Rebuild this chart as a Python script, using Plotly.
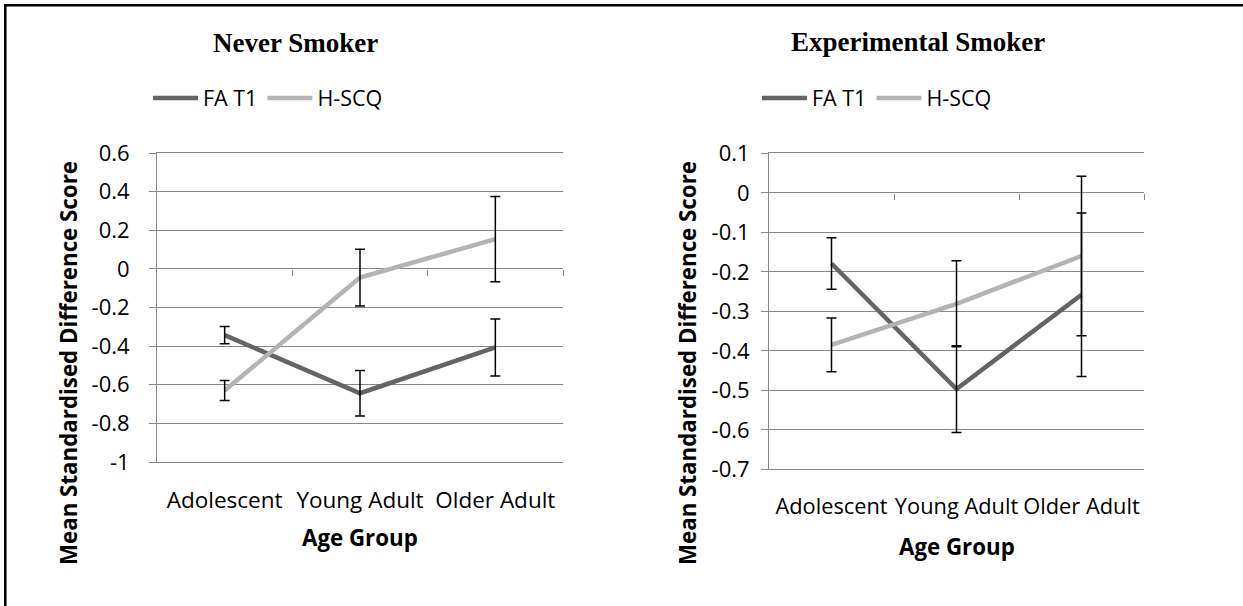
import plotly.graph_objects as go

# Age groups on the category axis
age_groups = ["Adolescent", "Young Adult", "Older Adult"]

# Never Smoker panel: means and error half-widths
never_fa = [-0.343, -0.644, -0.407]
never_fa_err = [0.045, 0.118, 0.148]
never_hscq = [-0.630, -0.045, 0.154]
never_hscq_err = [0.052, 0.147, 0.221]

# Experimental Smoker panel: means and error half-widths
exp_fa = [-0.179, -0.497, -0.258]
exp_fa_err = [0.065, 0.110, 0.207]
exp_hscq = [-0.385, -0.281, -0.160]
exp_hscq_err = [0.068, 0.109, 0.202]

# Value-axis ticks and their labels
never_ticks = [-1, -0.8, -0.6, -0.4, -0.2, 0, 0.2, 0.4, 0.6]
never_tick_text = ["-1", "-0.8", "-0.6", "-0.4", "-0.2", "0", "0.2", "0.4", "0.6"]
exp_ticks = [-0.7, -0.6, -0.5, -0.4, -0.3, -0.2, -0.1, 0, 0.1]
exp_tick_text = ["-0.7", "-0.6", "-0.5", "-0.4", "-0.3", "-0.2", "-0.1", "0", "0.1"]

W, H = 1243, 606
FONT = "Open Sans"
DARK = "#646464"
LIGHT = "#b3b3b3"
GRID = "#888888"


def px_x(p):
    return p / W


def px_y(p):
    return 1 - p / H


fig = go.Figure()


def add_panel(xa, ya, fa, fa_err, hscq, hscq_err, legend):
    fig.add_trace(go.Scatter(x=age_groups, y=fa, mode="lines", name="FA T1",
                             line=dict(color=DARK, width=4.5), xaxis=xa, yaxis=ya,
                             legend=legend))
    fig.add_trace(go.Scatter(x=age_groups, y=hscq, mode="lines", name="H-SCQ",
                             line=dict(color=LIGHT, width=4.5), xaxis=xa, yaxis=ya,
                             legend=legend))
    # error bars drawn above both lines
    for vals, errs in ((fa, fa_err), (hscq, hscq_err)):
        fig.add_trace(go.Scatter(x=age_groups, y=vals, mode="markers",
                                 marker=dict(size=1, color="rgba(0,0,0,0)"),
                                 error_y=dict(type="data", array=errs, visible=True,
                                              color="black", thickness=1.5, width=5),
                                 showlegend=False, hoverinfo="skip",
                                 xaxis=xa, yaxis=ya))


add_panel("x", "y", never_fa, never_fa_err, never_hscq, never_hscq_err, "legend")
add_panel("x2", "y2", exp_fa, exp_fa_err, exp_hscq, exp_hscq_err, "legend2")

left_x = [px_x(157), px_x(563)]
left_y = [px_y(462), px_y(153)]
right_x = [px_x(769), px_x(1144)]
right_y = [px_y(469.3), px_y(153.3)]
left_range = [-1, 0.6]
right_range = [-0.7, 0.1]


def zero_pos(dom, rng):
    return dom[0] + (0 - rng[0]) / (rng[1] - rng[0]) * (dom[1] - dom[0])


tick_font = dict(family=FONT, size=22, color="black")

cat_axis = dict(type="category", range=[-0.5, 2.5], showgrid=False, showline=True,
                mirror=True, linecolor=GRID, linewidth=1, ticks="", tickangle=0,
                ticklabelstandoff=18, zeroline=False, automargin=False)

val_axis = dict(showgrid=True, gridcolor=GRID, gridwidth=1, zeroline=False,
                showline=True, linecolor=GRID, linewidth=1, ticks="outside",
                ticklen=7, tickcolor=GRID, tickfont=tick_font, automargin=False,
                tickmode="array")

# overlay axes that put the category boundary ticks on the zero line
boundary_axis = dict(type="linear", range=[-0.5, 2.5], tickvals=[0.5, 1.5, 2.5],
                     ticks="outside", ticklen=6, tickcolor=GRID, showline=False,
                     showticklabels=False, showgrid=False, zeroline=False,
                     anchor="free", automargin=False)

legend_common = dict(orientation="h", xanchor="center", yanchor="middle",
                     font=dict(family=FONT, size=21.5, color="black"),
                     bgcolor="rgba(0,0,0,0)", itemwidth=45)

fig.update_layout(
    width=W, height=H,
    margin=dict(l=0, r=0, t=0, b=0, autoexpand=False),
    paper_bgcolor="white", plot_bgcolor="white",
    font=dict(family=FONT, color="black"),
    xaxis=dict(cat_axis, domain=left_x, anchor="y",
               tickfont=dict(family=FONT, size=22.5, color="black")),
    yaxis=dict(val_axis, domain=left_y, anchor="x", range=left_range,
               tickvals=never_ticks, ticktext=never_tick_text, ticklabelstandoff=15),
    xaxis2=dict(cat_axis, domain=right_x, anchor="y2",
                tickfont=dict(family=FONT, size=21.8, color="black")),
    yaxis2=dict(val_axis, domain=right_y, anchor="x2", range=right_range,
                tickvals=exp_ticks, ticktext=exp_tick_text, ticklabelstandoff=7),
    xaxis3=dict(boundary_axis, domain=left_x, overlaying="x",
                position=zero_pos(left_y, left_range)),
    xaxis4=dict(boundary_axis, domain=right_x, overlaying="x2",
                position=zero_pos(right_y, right_range)),
    legend=dict(legend_common, x=px_x(268), y=px_y(98)),
    legend2=dict(legend_common, x=px_x(877), y=px_y(98)),
    showlegend=True,
)

# an empty trace on the boundary axes so they render
for xa, ya in (("x3", "y"), ("x4", "y2")):
    fig.add_trace(go.Scatter(x=[], y=[], xaxis=xa, yaxis=ya, showlegend=False))

title_font = dict(family="Liberation Serif", size=27, color="black")
axis_title_font = dict(family=FONT, size=22.3, color="black")

annotations = [
    dict(text="<b>Never Smoker</b>", x=px_x(295), y=px_y(43), font=title_font),
    dict(text="<b>Experimental Smoker</b>", x=px_x(918), y=px_y(42), font=title_font),
    dict(text="<b>Age Group</b>", x=px_x(360), y=px_y(537), font=axis_title_font),
    dict(text="<b>Age Group</b>", x=px_x(957), y=px_y(546), font=axis_title_font),
    dict(text="<b>Mean Standardised Difference Score</b>", x=px_x(68), y=px_y(363),
         textangle=-90, font=axis_title_font),
    dict(text="<b>Mean Standardised Difference Score</b>", x=px_x(687), y=px_y(363),
         textangle=-90, font=axis_title_font),
]
for a in annotations:
    a.update(xref="paper", yref="paper", showarrow=False, xanchor="center",
             yanchor="middle")
fig.update_layout(annotations=annotations)

# outer frame around the figure
fig.add_shape(type="rect", xref="paper", yref="paper", x0=px_x(5.3), x1=1.05,
              y0=-0.05, y1=px_y(5.3), line=dict(color="black", width=2.5),
              fillcolor="rgba(0,0,0,0)")

fig.write_html("out.html")
